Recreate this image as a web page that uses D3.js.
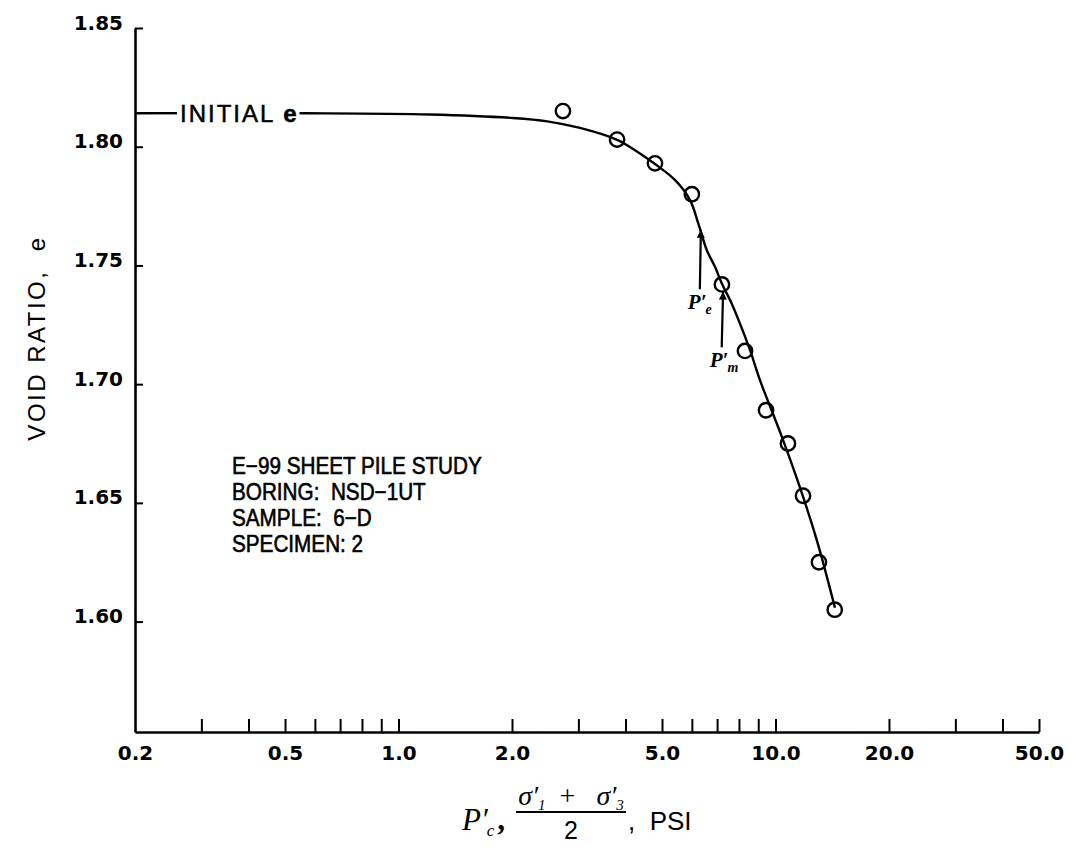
<!DOCTYPE html>
<html>
<head>
<meta charset="utf-8">
<script src="https://cdn.jsdelivr.net/npm/d3@7"></script>
<style>
  html, body { margin: 0; padding: 0; background: #fff; }
  svg { display: block; }
</style>
</head>
<body>
<svg id="chart" width="1087" height="864"></svg>
<script>
// ---------- data ----------
const xTickValues = [0.3, 0.4, 0.5, 0.6, 0.7, 0.8, 0.9, 1, 2, 3, 4, 5, 6, 7, 8, 9, 10, 20, 30, 40, 50];
const xLabelValues = [0.2, 0.5, 1, 2, 5, 10, 20, 50];
const xLabelTexts = ["0.2", "0.5", "1.0", "2.0", "5.0", "10.0", "20.0", "50.0"];
const yTickValues = [1.60, 1.65, 1.70, 1.75, 1.80, 1.85];
const yLabelTexts = ["1.60", "1.65", "1.70", "1.75", "1.80", "1.85"];

// measured points: mean effective stress (psi) vs void ratio
const pressure = [2.73, 3.80, 4.79, 6.00, 7.21, 8.30, 9.44, 10.79, 11.83, 13.04, 14.36];
const voidRatio = [1.815, 1.803, 1.793, 1.780, 1.742, 1.714, 1.689, 1.675, 1.653, 1.625, 1.605];

// fitted curve
const curveP = [0.2, 0.565, 1.21, 2.01, 2.48, 3.03, 3.80, 4.27, 4.79, 5.41, 5.93, 6.24, 6.57, 6.91, 7.20, 7.65, 8.05, 8.56, 9.10, 10.41, 11.61, 12.88, 14.38];
const curveE = [1.8141, 1.8141, 1.8136, 1.8121, 1.8107, 1.8079, 1.8029, 1.7982, 1.7927, 1.786, 1.7776, 1.7677, 1.7565, 1.7494, 1.7425, 1.734, 1.7255, 1.7143, 1.7016, 1.6776, 1.6565, 1.6341, 1.6058];

const initialE = 1.8141;
// annotation arrows
const arrowNames = ["e", "m"];
const arrowP0 = [6.30, 7.20];
const arrowP1 = [6.34, 7.26];
const arrowE0 = [1.740, 1.7155];
const arrowE1 = [1.765, 1.739];

const infoLines = ["E\u221299 SHEET PILE STUDY", "BORING:  NSD\u22121UT", "SAMPLE:  6\u2212D", "SPECIMEN: 2"];

// ---------- drawing ----------
const svg = d3.select("#chart");
const x = d3.scaleLog().domain([0.2, 50]).range([135, 1039]);
const y = d3.scaleLinear().domain([1.5535, 1.85]).range([732, 28]);
const ink = "#000";
const tickFont = "'DejaVu Sans', sans-serif";
const sans = "'Liberation Sans', Arial, sans-serif";
const serif = "'Liberation Serif', 'DejaVu Serif', serif";

// x axis: ticks (inward, up)
const gx = svg.append("g").attr("transform", `translate(0,${y.range()[0]})`);
gx.call(d3.axisBottom(x).tickValues(xTickValues).tickSize(-13).tickSizeOuter(0).tickFormat(""));
gx.select(".domain").attr("stroke-width", 2.6).attr("stroke", ink);
gx.selectAll(".tick line").attr("stroke-width", 2).attr("stroke", ink);

const gxl = svg.append("g").attr("transform", `translate(0,${y.range()[0]})`);
gxl.call(d3.axisBottom(x).tickValues(xLabelValues).tickSize(0).tickPadding(14)
  .tickFormat((d, i) => xLabelTexts[i]));
gxl.select(".domain").remove();
gxl.selectAll("text").attr("font-family", tickFont).attr("font-weight", "bold")
  .attr("font-size", 20).attr("fill", ink);

// y axis
const gy = svg.append("g").attr("transform", `translate(${x.range()[0]},0)`);
gy.call(d3.axisLeft(y).tickValues(yTickValues).tickSize(-8).tickSizeOuter(0).tickPadding(12)
  .tickFormat((d, i) => yLabelTexts[i]));
gy.select(".domain").attr("stroke-width", 2.6).attr("stroke", ink);
gy.selectAll(".tick line").attr("stroke-width", 2).attr("stroke", ink);
gy.selectAll("text").attr("font-family", tickFont).attr("font-weight", "bold")
  .attr("font-size", 20).attr("fill", ink).attr("dy", "0.05em");

// fitted curve
const line = d3.line().x((d, i) => x(curveP[i])).y((d, i) => y(curveE[i]))
  .curve(d3.curveCatmullRom.alpha(0.5));
svg.append("path").datum(curveP).attr("d", line)
  .attr("fill", "none").attr("stroke", ink).attr("stroke-width", 2.4);

// INITIAL e label with white background hiding the line
const initG = svg.append("g");
const initBg = initG.append("rect").attr("fill", "#fff");
const initT = initG.append("text")
  .attr("x", x(0.2) + 45).attr("y", y(initialE) + 9)
  .attr("font-family", sans).attr("font-size", 24).attr("letter-spacing", 2)
  .attr("fill", ink).attr("stroke", ink).attr("stroke-width", 0.5)
  .style("white-space", "pre");
initT.append("tspan").text("INITIAL ");
initT.append("tspan").attr("font-weight", "bold").text("e");
const ib = initT.node().getBBox();
initBg.attr("x", ib.x - 3).attr("y", ib.y).attr("width", ib.width + 4).attr("height", ib.height);

// points
svg.append("g").selectAll("circle").data(pressure).join("circle")
  .attr("cx", (d) => x(d)).attr("cy", (d, i) => y(voidRatio[i]))
  .attr("r", 7.2).attr("fill", "none").attr("stroke", ink).attr("stroke-width", 2.4);

// arrows
const defs = svg.append("defs");
defs.append("marker").attr("id", "ah").attr("viewBox", "0 0 10 10")
  .attr("refX", 10).attr("refY", 5).attr("markerWidth", 15).attr("markerHeight", 8)
  .attr("markerUnits", "userSpaceOnUse").attr("orient", "auto")
  .append("path").attr("d", "M0,0 L10,5 L0,10 Z").attr("fill", ink);

arrowNames.forEach((nm, i) => {
  svg.append("line")
    .attr("x1", x(arrowP0[i])).attr("y1", y(arrowE0[i]))
    .attr("x2", x(arrowP1[i])).attr("y2", y(arrowE1[i]))
    .attr("stroke", ink).attr("stroke-width", 2.2)
    .attr("marker-end", "url(#ah)");
  const t = svg.append("text")
    .attr("x", x(arrowP0[i]) - 12).attr("y", y(arrowE0[i]) + 20)
    .attr("font-family", serif)
    .attr("font-style", "italic").attr("font-weight", "bold")
    .attr("font-size", 21).attr("fill", ink);
  t.append("tspan").text("P\u2032");
  t.append("tspan").attr("dx", -1).attr("dy", 5).attr("font-size", 14).text(nm);
});

// info text block
svg.append("g").attr("transform", "translate(232,0) scale(0.9,1)")
  .selectAll("text").data(infoLines).join("text")
  .attr("x", 0).attr("y", (d, i) => 474 + i * 26)
  .attr("font-family", sans)
  .attr("font-size", 23).attr("fill", ink).attr("stroke", ink).attr("stroke-width", 0.6)
  .style("white-space", "pre")
  .text((d) => d);

// y axis title
svg.append("text")
  .attr("transform", "translate(45,338) rotate(-90)")
  .attr("text-anchor", "middle")
  .attr("font-family", sans)
  .attr("font-size", 24).attr("letter-spacing", 2.5).attr("fill", ink)
  .style("white-space", "pre")
  .text("VOID RATIO,  e");

// x axis title:  P'c , (σ'1 + σ'3)/2 , PSI
const xt = svg.append("g");
const pc = xt.append("text").attr("x", 462).attr("y", 830)
  .attr("font-family", serif).attr("font-style", "italic").attr("font-size", 31).attr("fill", ink);
pc.append("tspan").text("P\u2032");
pc.append("tspan").attr("dx", -1).attr("dy", 6).attr("font-size", 17).text("c");
pc.append("tspan").attr("dy", -6).attr("dx", 3).attr("font-style", "normal").attr("font-weight", "bold").text(",");

const num = xt.append("text").attr("x", 571).attr("y", 805).attr("text-anchor", "middle")
  .attr("font-family", serif).attr("font-style", "italic").attr("font-size", 28).attr("fill", ink)
  .style("white-space", "pre");
num.append("tspan").text("\u03C3\u2032");
num.append("tspan").attr("dy", 5).attr("font-size", 15).text("1");
num.append("tspan").attr("dy", -5).attr("font-style", "normal").text("  +   ");
num.append("tspan").text("\u03C3\u2032");
num.append("tspan").attr("dy", 5).attr("font-size", 15).text("3");

xt.append("line").attr("x1", 516).attr("x2", 626).attr("y1", 812).attr("y2", 812)
  .attr("stroke", ink).attr("stroke-width", 2);
xt.append("text").attr("x", 571).attr("y", 839).attr("text-anchor", "middle")
  .attr("font-family", sans).attr("font-size", 25).attr("fill", ink)
  .text("2");
xt.append("text").attr("x", 628).attr("y", 830)
  .attr("font-family", sans).attr("font-size", 26).attr("fill", ink)
  .style("white-space", "pre")
  .text(",  PSI");
</script>
</body>
</html>
